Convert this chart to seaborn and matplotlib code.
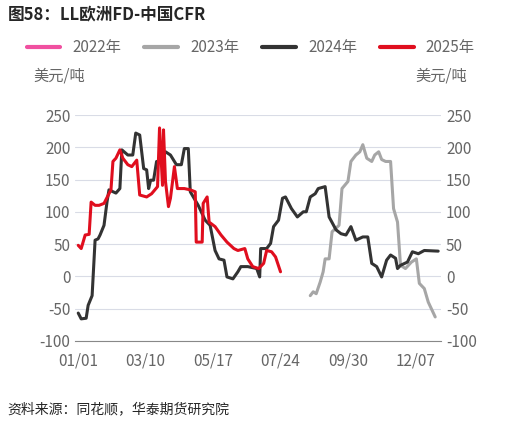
import pandas as pd
import seaborn as sns
import matplotlib.pyplot as plt

# day of year, value (USD/t)
d2024 = [0, 3, 8, 10, 14, 17, 20, 22, 26, 29, 31, 38, 42, 44, 50, 55, 58, 62, 66, 69, 71, 73, 76, 79, 83, 88, 93, 99, 104, 107,
         111, 113, 121, 128, 133, 138, 142, 147, 150, 156, 161, 164, 171, 180, 183, 184, 190, 194, 197, 202, 206, 209, 215, 221,
         227, 230, 234, 239, 242, 249, 253, 260, 265, 270, 275, 280, 287, 292, 296, 301, 306, 311, 315, 320, 322, 325, 332, 337,
         343, 349, 363]
v2024 = [-57, -66, -65, -45, -30, 56, 58, 64, 79, 115, 134, 129, 136, 196, 188, 188, 222, 219, 167, 165, 136, 149, 149, 178, 178,
         193, 188, 173, 173, 198, 198, 131, 110, 87, 79, 40, 27, 25, -1, -4, 7, 15, 15, 12, -1, 43, 43, 51, 77, 87, 121, 123, 105,
         92, 100, 100, 123, 128, 136, 139, 92, 72, 66, 64, 77, 56, 61, 61, 20, 15, -1, 25, 33, 28, 12, 17, 22, 38, 35, 40, 39]
d2025 = [0, 3, 7, 11, 13, 17, 21, 26, 33, 35, 38, 42, 45, 50, 54, 59, 62, 69, 74, 80, 82, 85, 86, 88, 91, 93, 97, 100, 107, 113,
         118, 119, 125, 126, 130, 132, 138, 144, 150, 157, 161, 168, 171, 176, 182, 187, 190, 195, 199, 204]
v2025 = [48, 43, 64, 65, 115, 110, 110, 113, 134, 178, 183, 196, 183, 173, 170, 180, 126, 123, 128, 139, 230, 141, 227, 147, 108,
         121, 170, 136, 136, 134, 131, 53, 53, 113, 123, 84, 77, 64, 53, 43, 40, 43, 27, 15, 12, 20, 40, 38, 30, 7]
d2023 = [234, 237, 240, 244, 247, 249, 253, 256, 263, 266, 272, 275, 280, 284, 287, 291, 296, 299, 303, 306, 310, 315, 318, 322,
         325, 330, 336, 341, 344, 349, 353, 360]
v2023 = [-30, -24, -27, -9, 7, 27, 27, 69, 79, 136, 147, 178, 188, 193, 204, 183, 178, 188, 193, 181, 178, 178, 105, 84, 17, 12,
         22, 27, -11, -19, -40, -63]
tick_days = [0, 68, 136, 204, 272, 340]
tick_labels = ['01/01', '03/10', '05/17', '07/24', '09/30', '12/07']

df = pd.concat([
    pd.DataFrame({'day': d2023, 'value': v2023, 'year': '2023年'}),
    pd.DataFrame({'day': d2024, 'value': v2024, 'year': '2024年'}),
    pd.DataFrame({'day': d2025, 'value': v2025, 'year': '2025年'}),
])

sns.set_style("white")
plt.rcParams['font.family'] = ['Noto Sans CJK SC', 'DejaVu Sans']
plt.rcParams['axes.unicode_minus'] = False
colors = {'2022年': '#F050A0', '2023年': '#A6A6A6', '2024年': '#333333', '2025年': '#E00E1E'}
grey = '#666666'

fig = plt.figure(figsize=(5.19, 4.26), dpi=100)
ax = fig.add_axes([0.145, 0.2, 0.705, 0.53])
sns.lineplot(data=df, x='day', y='value', hue='year', palette=colors, linewidth=2.2, ax=ax, legend=False, sort=False)
for y in ['2022年', '2023年', '2024年', '2025年']:
    ax.plot([], [], color=colors[y], lw=3, label=y)

ax.set_xlim(-3, 366)
ax.set_ylim(-100, 250)
ax.set_yticks(range(-100, 251, 50))
ax.set_xticks(tick_days)
ax.set_xticklabels(tick_labels)
ax.set_xlabel(None)
ax.set_ylabel(None)
ax.grid(axis='y', color='#D9DCE6', lw=0.8)
for s in ['top', 'right', 'left']:
    ax.spines[s].set_visible(False)
ax.spines['bottom'].set_color('#888888')
ax.tick_params(axis='x', colors=grey, labelsize=11, length=5, direction='out', color='#888888')
ax.tick_params(axis='y', colors=grey, labelsize=11, length=0)

ax2 = ax.twinx()
ax2.set_ylim(-100, 250)
ax2.set_yticks(range(-100, 251, 50))
for s in ax2.spines.values():
    s.set_visible(False)
ax2.tick_params(axis='y', colors=grey, labelsize=11, length=0)

ax.legend(loc='lower left', bbox_to_anchor=(-0.17, 1.2), ncol=4, frameon=False, fontsize=11,
          handlelength=2.2, columnspacing=1.5, labelcolor=grey)
fig.text(0.065, 0.81, '美元/吨', fontsize=11, color=grey)
fig.text(0.8, 0.81, '美元/吨', fontsize=11, color=grey)
fig.text(0.015, 0.955, '图58：LL欧洲FD-中国CFR', fontsize=12, fontweight='bold')
fig.text(0.015, 0.03, '资料来源：同花顺，华泰期货研究院', fontsize=10, style='italic')

fig.savefig('out.png', dpi=100)
